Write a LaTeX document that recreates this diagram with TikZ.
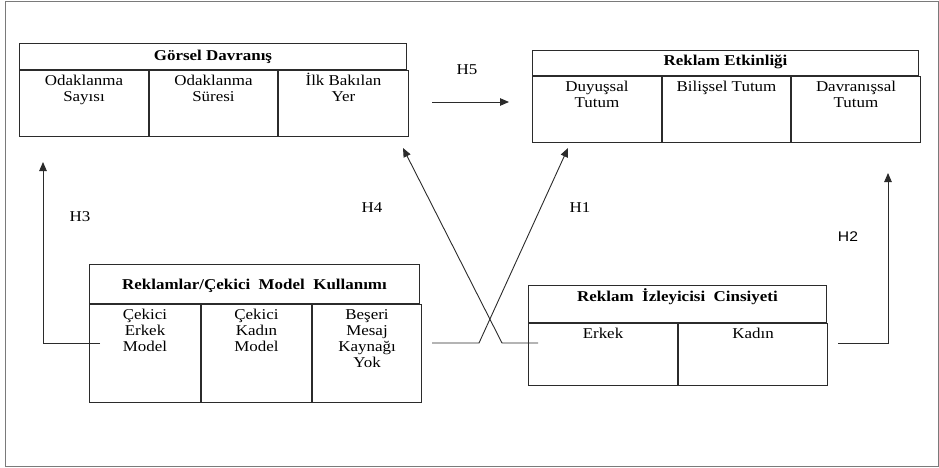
\documentclass[tikz,border=0pt]{standalone}
\usepackage{fontspec}
\setmainfont{Liberation Serif}[FakeStretch=1.13]
\newfontfamily\hsans{Liberation Sans}[FakeStretch=1.12]
\usepackage{tikz}
\usetikzlibrary{arrows.meta, positioning}
\definecolor{linegray}{HTML}{2B2B2B}
\definecolor{framegray}{HTML}{7A7A7A}

\begin{document}
\begin{tikzpicture}[
      x=1pt, y=-1pt,
      cellbox/.style={draw=linegray, line width=1pt, anchor=north west, inner sep=0pt, minimum height=#1},
      tabletitle/.style={font=\fontsize{15}{16}\selectfont\bfseries, inner sep=0pt},
      celltext/.style={font=\fontsize{15}{16}\selectfont, align=center, inner sep=0pt},
      hlabel/.style={font=\fontsize{15}{16}\selectfont, inner sep=0pt},
      link/.style={draw=linegray, line width=0.9pt},
      hyp/.style={link, -{Triangle[length=9pt, width=7.5pt]}}
  ]
    \useasboundingbox (0,0) rectangle (939,468);
    \draw[framegray, line width=1pt] (5,2) rectangle (938,466);

    % Gorsel Davranis
    \node[cellbox=26pt, minimum width=387pt] (g0) at (19,43) {};
    \node[cellbox=66pt, minimum width=129pt] (g1) at (g0.south west) {};
    \node[cellbox=66pt, minimum width=128pt] (g2) at (g1.north east) {};
    \node[cellbox=66pt, minimum width=130pt] (g3) at (g2.north east) {};
    \node[tabletitle, below=7pt of g0.north] (g0t) {Görsel Davranış};
    \node[celltext, below=5pt of g1.north] (g1t) {Odaklanma\\Sayısı};
    \node[celltext, below=5pt of g2.north] (g2t) {Odaklanma\\Süresi};
    \node[celltext, below=3pt of g3.north] (g3t) {İlk Bakılan\\Yer};

    % Reklam Etkinligi
    \node[cellbox=25pt, minimum width=386pt] (r0) at (532,50) {};
    \node[cellbox=66pt, minimum width=129pt] (r1) at (r0.south west) {};
    \node[cellbox=66pt, minimum width=128pt] (r2) at (r1.north east) {};
    \node[cellbox=66pt, minimum width=129pt] (r3) at (r2.north east) {};
    \node[tabletitle, below=5pt of r0.north] (r0t) {Reklam\ Etkinliği};
    \node[celltext, below=5pt of r1.north] (r1t) {Duyuşsal\\Tutum};
    \node[celltext, below=5pt of r2.north] (r2t) {Bilişsel\ Tutum};
    \node[celltext, below=5pt of r3.north] (r3t) {Davranışsal\\Tutum};

    % Reklamlar / Cekici Model
    \node[cellbox=39pt, minimum width=330pt] (m0) at (89,264) {};
    \node[cellbox=98pt, minimum width=111pt] (m1) at (m0.south west) {};
    \node[cellbox=98pt, minimum width=110pt] (m2) at (m1.north east) {};
    \node[cellbox=98pt, minimum width=109pt] (m3) at (m2.north east) {};
    \node[tabletitle, below=15pt of m0.north] (m0t) {Reklamlar/Çekici\ \ Model\ \ Kullanımı};
    \node[celltext, below=5pt of m1.north] (m1t) {Çekici\\Erkek\\Model};
    \node[celltext, below=5pt of m2.north] (m2t) {Çekici\\Kadın\\Model};
    \node[celltext, below=5pt of m3.north] (m3t) {Beşeri\\Mesaj\\Kaynağı\\Yok};

    % Reklam Izleyicisi Cinsiyeti
    \node[cellbox=37pt, minimum width=298pt] (c0) at (528,285) {};
    \node[cellbox=62pt, minimum width=149pt] (c1) at (c0.south west) {};
    \node[cellbox=62pt, minimum width=149pt] (c2) at (c1.north east) {};
    \node[tabletitle, below=3pt of c0.north] (c0t) {Reklam\ \ İzleyicisi\ \ Cinsiyeti};
    \node[celltext, below=5pt of c1.north] (c1t) {Erkek};
    \node[celltext, below=5pt of c2.north] (c2t) {Kadın};

    % hypothesis arrows
    \coordinate (h3s) at (100,343);
    \coordinate (h3e) at (43,162);
    \coordinate (h2s) at (838,343);
    \coordinate (h2e) at (888,173);
    \coordinate (h1s) at (432,343);
    \coordinate (h1k) at (479,343);
    \coordinate (h1e) at (568,148);
    \coordinate (h4s) at (538,343);
    \coordinate (h4k) at (502,343);
    \coordinate (h4e) at (403,148);
    \coordinate (h5s) at (432,102);
    \coordinate (h5e) at (509,102);

    \draw[hyp] (h3s) -| (h3e);
    \draw[hyp] (h2s) -| (h2e);
    \draw[hyp] (h1s) -- (h1k) -- (h1e);
    \draw[hyp] (h4s) -- (h4k) -- (h4e);
    \draw[hyp] (h5s) -- (h5e);

    \node[hlabel] (lh5) at (467,70) {H5};
    \node[hlabel] (lh4) at (372,208) {H4};
    \node[hlabel] (lh3) at (80,217) {H3};
    \node[hlabel] (lh1) at (580,208) {H1};
    \node[hlabel, font=\fontsize{14}{16}\selectfont\hsans] (lh2) at (848,237) {H2};
\end{tikzpicture}
\end{document}
